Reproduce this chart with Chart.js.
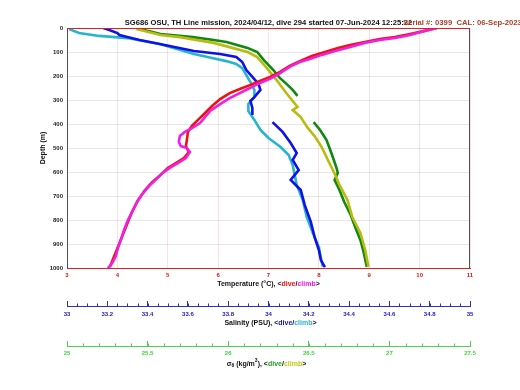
<!DOCTYPE html>
<html>
<head>
<meta charset="utf-8">
<script src="https://cdn.jsdelivr.net/npm/chart.js@4.4.0/dist/chart.umd.min.js"></script>
<style>
  html, body { margin: 0; padding: 0; background: #fff; }
</style>
</head>
<body>
<canvas id="profile" width="520" height="390"></canvas>
<script>
const headerText = 'SG686 OSU, TH Line mission, 2024/04/12, dive 294 started 07-Jun-2024 12:25:22';
const calText = 'Serial #: 0399  CAL: 06-Sep-2023';

// [value, depth m] pairs; null = break in the trace
const tempDive = [[10.34,0],[10.10,12],[9.81,25],[9.51,38],[9.21,46],[8.91,58],[8.62,71],[8.38,83],[8.12,100],[7.86,117],[7.62,138],[7.42,158],[7.23,183],[7.03,204],[6.83,221],[6.63,238],[6.43,254],[6.23,271],[6.04,296],[5.88,325],[5.74,354],[5.60,383],[5.48,408],[5.40,433],[5.38,467],[5.36,492],[5.42,517],[5.32,542],[5.16,563],[5.00,583],[4.85,613],[4.69,642],[4.55,675],[4.41,717],[4.29,767],[4.21,808],[4.13,850],[4.05,892],[3.97,933],[3.89,975],[3.85,996]];
const tempClimb = [[10.34,0],[10.10,12],[9.81,29],[9.51,42],[9.21,50],[8.91,62],[8.62,79],[8.32,96],[8.06,112],[7.82,129],[7.62,142],[7.42,162],[7.23,188],[7.03,212],[6.83,229],[6.63,250],[6.43,271],[6.23,292],[6.04,317],[5.84,346],[5.64,396],[5.48,417],[5.34,433],[5.24,450],[5.22,475],[5.26,492],[5.38,500],[5.44,517],[5.36,542],[5.20,563],[5.04,583],[4.90,604],[4.76,633],[4.65,654],[4.51,688],[4.39,725],[4.29,767],[4.21,800],[4.13,842],[4.07,883],[4.01,917],[3.97,950],[3.91,975],[3.85,992],[3.81,1000]];
const salDive = [[33.18,0],[33.21,8],[33.25,21],[33.26,29],[33.36,50],[33.46,67],[33.63,96],[33.76,108],[33.84,121],[33.87,142],[33.89,175],[33.92,204],[33.95,233],[33.96,258],[33.93,288],[33.91,304],[33.92,333],[33.92,363],null,[34.02,392],[34.07,433],[34.11,479],[34.14,521],[34.12,550],[34.15,592],[34.11,633],[34.16,675],[34.18,738],[34.21,808],[34.23,875],[34.25,925],[34.26,967],[34.28,996]];
const salClimb = [[33.01,4],[33.06,21],[33.16,33],[33.30,42],[33.46,67],[33.63,108],[33.72,125],[33.79,138],[33.84,150],[33.87,167],[33.89,196],[33.91,225],[33.93,258],[33.93,288],[33.90,317],[33.90,346],[33.93,383],[33.96,425],[34.00,458],[34.06,496],[34.10,529],[34.12,571],[34.13,612],[34.14,654],[34.17,717],[34.19,788],[34.22,854],[34.25,913],[34.26,958],[34.27,996]];
const sigDive = [[25.44,0],[25.50,12],[25.58,25],[25.78,38],[25.91,50],[25.99,58],[26.12,83],[26.18,100],[26.22,133],[26.28,175],[26.32,208],[26.37,238],[26.40,258],[26.43,283],null,[26.53,392],[26.57,425],[26.61,467],[26.64,521],[26.67,579],[26.68,604],[26.66,633],[26.69,675],[26.72,725],[26.76,779],[26.79,833],[26.82,883],[26.84,933],[26.86,996]];
const sigClimb = [[25.43,4],[25.58,29],[25.70,38],[25.91,62],[26.12,100],[26.18,121],[26.24,167],[26.30,217],[26.36,271],[26.43,329],[26.40,342],[26.45,371],[26.49,413],[26.54,454],[26.58,496],[26.61,538],[26.64,579],[26.67,621],[26.69,654],[26.74,717],[26.77,788],[26.82,854],[26.85,925],[26.87,996]];

const FONT = '"Liberation Sans", Arial, sans-serif';
Chart.defaults.font.family = FONT;

const toPts = arr => arr.map(p => p ? {x: p[0], y: p[1]} : {x: null, y: null});

function trace(data, color, axis) {
  return {
    data: toPts(data), xAxisID: axis, yAxisID: 'y',
    showLine: true, spanGaps: false,
    borderColor: color, backgroundColor: color,
    borderWidth: 2.6, pointRadius: 0
  };
}

// draws text made of coloured pieces, centred on cx
function drawParts(ctx, parts, cx, y) {
  let w = 0;
  parts.forEach(p => { ctx.font = p.font; w += ctx.measureText(p.t).width; });
  let x = cx - w / 2;
  ctx.textAlign = 'left';
  ctx.textBaseline = 'middle';
  parts.forEach(p => {
    ctx.font = p.font;
    ctx.fillStyle = p.c;
    ctx.fillText(p.t, x, y + (p.dy || 0));
    x += ctx.measureText(p.t).width;
  });
}

function minorTicks(ctx, scale, step, len, color) {
  const n = Math.round((scale.max - scale.min) / step);
  ctx.strokeStyle = color;
  ctx.lineWidth = 1;
  ctx.beginPath();
  for (let i = 0; i <= n; i++) {
    const px = Math.round(scale.getPixelForValue(scale.min + i * step)) + 0.5;
    ctx.moveTo(px, scale.top);
    ctx.lineTo(px, scale.top - len);
  }
  ctx.stroke();
}

const decor = {
  id: 'decor',
  afterDraw(chart) {
    const {ctx, chartArea: a, scales} = chart;
    ctx.save();
    ctx.lineWidth = 1;
    ctx.strokeStyle = '#e02020';
    ctx.beginPath(); ctx.moveTo(a.left, a.top + 0.5); ctx.lineTo(a.right, a.top + 0.5); ctx.stroke();
    ctx.strokeStyle = '#505050';
    ctx.beginPath(); ctx.moveTo(a.right - 0.5, a.top); ctx.lineTo(a.right - 0.5, a.bottom); ctx.stroke();

    minorTicks(ctx, scales.xs, 0.05, 2.5, '#3030c0');
    minorTicks(ctx, scales.xd, 0.1, 2.5, '#50d050');

    const b = 'bold 7px ' + FONT;
    const cx = (a.left + a.right) / 2;
    drawParts(ctx, [{t: headerText, c: '#111', font: 'bold 7.6px ' + FONT}], cx, 23);
    ctx.font = 'bold 7.7px ' + FONT;
    ctx.fillStyle = '#a8402a';
    ctx.textAlign = 'left';
    ctx.fillText(calText, 403, 23);

    drawParts(ctx, [
      {t: 'Temperature (°C), <', c: '#111', font: b},
      {t: 'dive', c: '#ee1111', font: b},
      {t: '/', c: '#111', font: b},
      {t: 'climb', c: '#f020e0', font: b},
      {t: '>', c: '#111', font: b}
    ], cx, 284);
    drawParts(ctx, [
      {t: 'Salinity (PSU), <', c: '#111', font: b},
      {t: 'dive', c: '#1010e8', font: b},
      {t: '/', c: '#111', font: b},
      {t: 'climb', c: '#28b4cc', font: b},
      {t: '>', c: '#111', font: b}
    ], cx + 2, 323);
    const sm = 'bold 5px ' + FONT;
    drawParts(ctx, [
      {t: 'σ', c: '#111', font: b},
      {t: 'θ', c: '#111', font: sm, dy: 2},
      {t: ' (kg/m', c: '#111', font: b},
      {t: '3', c: '#111', font: sm, dy: -3},
      {t: '), <', c: '#111', font: b},
      {t: 'dive', c: '#22a022', font: b},
      {t: '/', c: '#111', font: b},
      {t: 'climb', c: '#c4c410', font: b},
      {t: '>', c: '#111', font: b}
    ], cx - 2, 364);

    ctx.translate(43, (a.top + a.bottom) / 2);
    ctx.rotate(-Math.PI / 2);
    drawParts(ctx, [{t: 'Depth (m)', c: '#111', font: b}], 0, 0);
    ctx.restore();
  }
};

const tick = size => ({size, weight: 'bold'});
const lbl = v => String(Math.round(v * 10) / 10);

new Chart(document.getElementById('profile'), {
  type: 'scatter',
  data: {
    datasets: [
      trace(tempClimb, '#f020e0', 'x'),
      trace(tempDive, '#ee1111', 'x'),
      trace(salDive, '#1010e8', 'xs'),
      trace(salClimb, '#28b4cc', 'xs'),
      trace(sigClimb, '#b8bc10', 'xd'),
      trace(sigDive, '#118811', 'xd')
    ]
  },
  options: {
    responsive: false,
    animation: false,
    layout: { padding: { top: 28, right: 50, left: 0, bottom: 15 } },
    plugins: { legend: { display: false }, tooltip: { enabled: false } },
    scales: {
      x: {
        type: 'linear', position: 'bottom', weight: 0, min: 3, max: 11,
        ticks: { stepSize: 1, color: '#d01818', font: tick(6), padding: 4, maxRotation: 0, callback: lbl },
        grid: { color: 'rgba(210,80,80,0.16)', drawTicks: false },
        border: { color: '#e02020' },
        afterFit: s => { s.height = 38; }
      },
      xs: {
        type: 'linear', position: 'bottom', weight: 1, min: 33, max: 35,
        ticks: { stepSize: 0.2, color: '#2020c0', font: tick(6), padding: 10, maxRotation: 0, autoSkip: false, callback: lbl },
        grid: { drawOnChartArea: false, tickLength: -5, tickColor: '#3030c0' },
        border: { color: '#3030c0' },
        afterFit: s => { s.height = 40; }
      },
      xd: {
        type: 'linear', position: 'bottom', weight: 2, min: 25, max: 27.5,
        ticks: { stepSize: 0.5, color: '#40d040', font: tick(6), padding: 9, maxRotation: 0, autoSkip: false, callback: lbl },
        grid: { drawOnChartArea: false, tickLength: -5, tickColor: '#50d050' },
        border: { color: '#50d050' },
        afterFit: s => { s.height = 29; }
      },
      y: {
        type: 'linear', reverse: true, min: 0, max: 1000,
        ticks: { stepSize: 100, color: '#222', font: tick(6), padding: 4, callback: v => String(v) },
        grid: { color: 'rgba(0,0,0,0.09)', drawTicks: false },
        border: { color: '#505050' },
        afterFit: s => { s.width = 67; }
      }
    }
  },
  plugins: [decor]
});
</script>
</body>
</html>
